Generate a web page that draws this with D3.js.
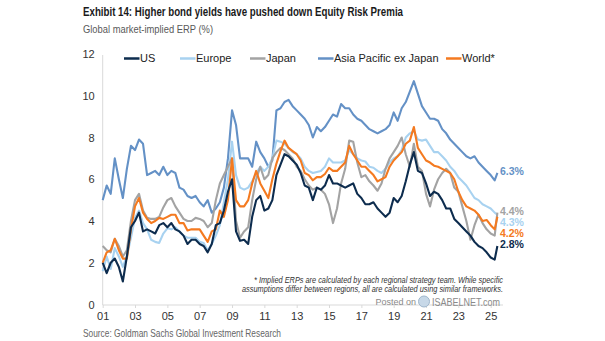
<!DOCTYPE html>
<html><head><meta charset="utf-8">
<script src="https://cdn.jsdelivr.net/npm/d3@7"></script>
<style>
body{margin:0;background:#fff;}
svg{display:block;}
text{font-family:"Liberation Sans",Arial,sans-serif;}
</style></head><body>
<svg id="chart" width="605" height="341"></svg>
<script>
// ---- data (quarterly) ----
const dates = [
"2001-01","2001-04","2001-07","2001-10","2002-01","2002-04","2002-07","2002-10",
"2003-01","2003-04","2003-07","2003-10","2004-01","2004-04","2004-07","2004-10",
"2005-01","2005-04","2005-07","2005-10","2006-01","2006-04","2006-07","2006-10",
"2007-01","2007-04","2007-07","2007-10","2008-01","2008-04","2008-07","2008-10",
"2009-01","2009-04","2009-07","2009-10","2010-01","2010-04","2010-07","2010-10",
"2011-01","2011-04","2011-07","2011-10","2012-01","2012-04","2012-07","2012-10",
"2013-01","2013-04","2013-07","2013-10","2014-01","2014-04","2014-07","2014-10",
"2015-01","2015-04","2015-07","2015-10","2016-01","2016-04","2016-07","2016-10",
"2017-01","2017-04","2017-07","2017-10","2018-01","2018-04","2018-07","2018-10",
"2019-01","2019-04","2019-07","2019-10","2020-01","2020-04","2020-07","2020-10",
"2021-01","2021-04","2021-07","2021-10","2022-01","2022-04","2022-07","2022-10",
"2023-01","2023-04","2023-07","2023-10","2024-01","2024-04","2024-07","2024-10",
"2025-01","2025-04","2025-06"];

const seriesNames = ["US","Europe","Japan","Asia Pacific ex Japan","World*"];

const us = [
2.0,1.5,2.0,2.2, 1.8,1.1,2.3,3.7, 4.0,4.4,3.5,3.6, 3.5,3.4,3.8,3.9,
3.7,3.9,3.6,3.5, 3.3,2.9,3.1,3.1, 2.9,2.8,2.5,2.9, 3.8,3.9,4.5,5.4,
6.0,3.5,3.05,3.1, 2.9,4.2,5.0,5.2, 4.5,4.6,5.0,6.2, 6.7,7.2,7.1,6.9,
6.7,6.3,5.7,5.6, 5.0,5.6,5.5,5.7, 6.2,5.8,5.8,5.7, 5.6,5.7,5.8,5.3,
5.1,4.8,4.8,4.9, 4.6,4.4,4.2,4.4, 5.1,4.9,5.2,5.9, 6.7,7.3,6.4,6.3,
5.8,5.2,5.4,5.3, 5.0,4.6,4.6,4.1, 3.9,3.7,3.5,3.3, 3.0,2.8,2.7,2.5,
2.25,2.15,2.8];

const europe = [
1.6,2.3,1.7,2.7, 2.3,1.8,2.3,3.2, 4.15,4.5,3.9,3.6, 3.1,3.0,2.95,3.4,
3.65,3.6,3.7,3.5, 3.3,3.2,3.2,3.2, 3.0,2.95,2.6,2.9, 3.3,3.8,4.9,6.0,
7.8,6.2,5.6,5.5, 5.6,5.9,6.3,6.6, 6.4,6.6,7.0,7.85, 7.8,7.7,7.5,7.3,
7.2,7.0,6.6,6.4, 6.3,6.35,6.4,6.6, 7.0,6.8,6.8,6.8, 6.9,7.4,7.2,7.0,
6.9,6.85,6.6,6.55, 6.4,6.3,6.5,6.8, 7.0,7.1,7.4,8.0, 8.2,8.3,7.9,7.85,
7.9,7.6,7.3,7.3, 7.1,6.9,6.6,6.4, 6.1,5.9,5.7,5.4, 5.1,5.0,4.8,4.7,
4.6,4.4,4.3];

const japan = [
2.8,2.6,2.5,3.15, 2.8,2.3,2.6,4.0, 5.0,5.3,4.5,4.15, 4.1,4.1,4.2,4.65,
5.0,5.1,4.7,4.4, 4.1,4.0,4.0,4.15, 4.1,4.0,3.7,3.9, 5.0,5.8,6.2,6.6,
7.0,4.0,3.2,3.5, 3.7,5.0,6.0,6.6, 6.0,6.2,7.0,7.3, 7.5,7.4,7.2,7.0,
6.6,6.4,6.0,5.7, 5.5,5.6,5.5,5.3, 4.8,3.9,4.6,5.8, 6.5,7.85,7.8,6.8,
6.1,6.2,5.9,5.7, 5.45,5.8,6.5,7.0, 7.3,7.6,8.0,7.2, 6.6,7.7,6.6,6.4,
5.3,4.7,5.5,6.0, 6.3,6.5,6.3,5.6, 5.4,4.7,4.0,3.1, 3.8,4.3,3.9,3.6,
3.4,3.3,4.4];

const asiaPac = [
5.0,5.7,5.3,7.0, 6.0,5.1,6.5,7.6, 7.4,7.9,7.7,6.2, 6.3,6.4,6.2,6.6,
6.2,6.4,6.3,5.6, 5.5,5.2,5.1,5.2, 4.9,4.7,5.0,4.4, 4.6,4.9,5.6,7.0,
9.3,8.6,7.0,7.0, 7.0,6.6,7.8,7.3, 7.0,6.6,6.9,9.3, 9.4,9.7,9.8,9.5,
9.3,9.1,8.9,8.6, 8.0,8.5,8.3,8.5, 8.8,9.1,9.0,9.6, 9.4,9.4,9.1,8.9,
8.8,8.6,8.4,8.3, 8.2,8.3,8.4,8.6, 9.2,8.8,9.4,9.7, 10.2,10.7,10.1,9.5,
9.2,8.9,8.9,8.8, 8.4,8.2,7.9,7.7, 7.5,7.3,7.1,7.0, 7.1,6.8,6.6,6.4,
6.2,5.95,6.3];

const world = [
2.0,2.5,2.6,3.15, 2.6,2.2,2.2,3.6, 4.7,5.1,4.4,4.1, 3.9,4.0,4.15,4.1,
4.2,4.3,4.3,3.9, 3.9,3.55,3.6,3.6, 3.6,3.3,3.0,3.5, 3.6,4.5,4.2,5.0,
7.0,5.0,4.7,4.7, 5.0,5.8,6.4,5.8, 5.45,5.1,6.0,6.75, 7.35,7.85,7.5,7.35,
7.2,6.9,6.3,6.2, 5.95,6.1,6.1,6.25, 6.55,6.4,6.4,6.6, 6.8,7.6,7.2,6.9,
6.6,6.6,6.4,6.2, 5.9,6.0,6.1,6.6, 6.9,7.1,7.3,7.7, 7.85,8.5,7.5,7.2,
6.9,6.8,6.65,6.6, 6.5,6.4,6.3,6.0, 5.4,5.0,4.7,4.6, 4.5,4.3,4.0,4.05,
3.8,3.6,4.2];

const endLabels = ["2.8%","4.3%","4.4%","6.3%","4.2%"];
const yTicks = [0,2,4,6,8,10,12];
const xTickYears = [2001,2003,2005,2007,2009,2011,2013,2015,2017,2019,2021,2023,2025];

// ---- drawing ----
const colors = ["#0d2c4e","#a8d2f0","#a3a3a3","#6491c6","#f47a20"];
const values = [us, europe, japan, asiaPac, world];
const parse = d3.timeParse("%Y-%m");
const dts = dates.map(parse);

const svg = d3.select("#chart");
const x = d3.scaleTime().domain([new Date(2001,0,1), new Date(2025,0,1)]).range([102.7, 490.7]);
const y = d3.scaleLinear().domain([0,12]).range([304.5, 54]);

// title
svg.append("text").attr("x",83).attr("y",15.5).attr("font-size",13).attr("font-weight","bold")
  .attr("fill","#1a1a1a").attr("textLength",320).attr("lengthAdjust","spacingAndGlyphs")
  .text("Exhibit 14: Higher bond yields have pushed down Equity Risk Premia");
svg.append("text").attr("x",83).attr("y",33).attr("font-size",11.5)
  .attr("fill","#595959").attr("textLength",130).attr("lengthAdjust","spacingAndGlyphs")
  .text("Global market-implied ERP (%)");

// axes lines
svg.append("line").attr("x1",102.7).attr("x2",102.7).attr("y1",55).attr("y2",305)
  .attr("stroke","#d9d9d9").attr("stroke-width",1);
svg.append("line").attr("x1",102.7).attr("x2",503).attr("y1",305).attr("y2",305)
  .attr("stroke","#d9d9d9").attr("stroke-width",1);

// y axis
const yAx = svg.append("g").attr("transform","translate(102.7,0)")
  .call(d3.axisLeft(y).tickValues(yTicks).tickSize(0).tickPadding(8).tickFormat(d3.format("d")));
yAx.select(".domain").remove();
yAx.selectAll("text").attr("font-size",11).attr("fill","#333").attr("font-family","Liberation Sans, Arial, sans-serif");

// x axis
const xAx = svg.append("g").attr("transform","translate(0,305)")
  .call(d3.axisBottom(x).tickValues(xTickYears.map(v=>new Date(v,0,1))).tickSize(3).tickPadding(4)
  .tickFormat(d3.timeFormat("%y")));
xAx.select(".domain").remove();
xAx.selectAll("line").attr("stroke","#d9d9d9");
xAx.selectAll("text").attr("font-size",11).attr("fill","#333").attr("font-family","Liberation Sans, Arial, sans-serif");

// footnote
svg.append("text").attr("x",503).attr("y",283).attr("text-anchor","end").attr("font-size",8.5)
  .attr("font-style","italic").attr("fill","#333").attr("textLength",249).attr("lengthAdjust","spacingAndGlyphs")
  .text("* Implied ERPs are calculated by each regional strategy team. While specific");
svg.append("text").attr("x",503).attr("y",292).attr("text-anchor","end").attr("font-size",8.5)
  .attr("font-style","italic").attr("fill","#333").attr("textLength",261).attr("lengthAdjust","spacingAndGlyphs")
  .text("assumptions differ between regions, all are calculated using similar frameworks.");

// watermark (kept on one line so it clears the footnote and tick labels)
svg.append("text").attr("x",416).attr("y",305).attr("text-anchor","end").attr("font-size",9)
  .attr("fill","#8a8a8a").text("Posted on");
svg.append("circle").attr("cx",424).attr("cy",301.5).attr("r",5.5).attr("fill","#c7d8e8").attr("stroke","#9fb6cc");
svg.append("text").attr("x",432).attr("y",305.5).attr("font-size",10).attr("fill","#8a8a8a")
  .attr("textLength",68).attr("lengthAdjust","spacingAndGlyphs").text("ISABELNET.com");

// lines
const line = d3.line().x((d,i)=>x(dts[i])).y(d=>y(d));
const order = [3,1,2,4,0];
order.forEach(k=>{
  svg.append("path").datum(values[k]).attr("d",line).attr("fill","none")
    .attr("stroke",colors[k]).attr("stroke-width",2.1).attr("stroke-linejoin","round");
});

// end labels with simple collision avoidance
const last = values.map((v,k)=>({k, v:v[v.length-1], y:y(v[v.length-1])}));
const sorted = last.slice().sort((a,b)=>b.v-a.v || b.k-a.k);
for(let i=1;i<sorted.length;i++){
  if(sorted[i].y < sorted[i-1].y + 11) sorted[i].y = sorted[i-1].y + 11;
}
sorted.forEach(o=>{
  svg.append("text").attr("x",500).attr("y",o.y-1.5).attr("dy","0.35em").attr("font-size",10.5)
    .attr("font-weight","bold").attr("fill",colors[o.k]).text(endLabels[o.k]);
});

// legend
const legX = [124,180,250,318,446];
seriesNames.forEach((n,k)=>{
  svg.append("line").attr("x1",legX[k]).attr("x2",legX[k]+15.5).attr("y1",58.5).attr("y2",58.5)
    .attr("stroke",colors[k]).attr("stroke-width",2.5);
  svg.append("text").attr("x",legX[k]+16).attr("y",58.5).attr("dy","0.35em").attr("font-size",11)
    .attr("fill","#222").text(n);
});

// source
svg.append("text").attr("x",83).attr("y",336.5).attr("font-size",11).attr("fill","#666")
  .attr("textLength",198).attr("lengthAdjust","spacingAndGlyphs")
  .text("Source: Goldman Sachs Global Investment Research");
</script>
</body></html>
